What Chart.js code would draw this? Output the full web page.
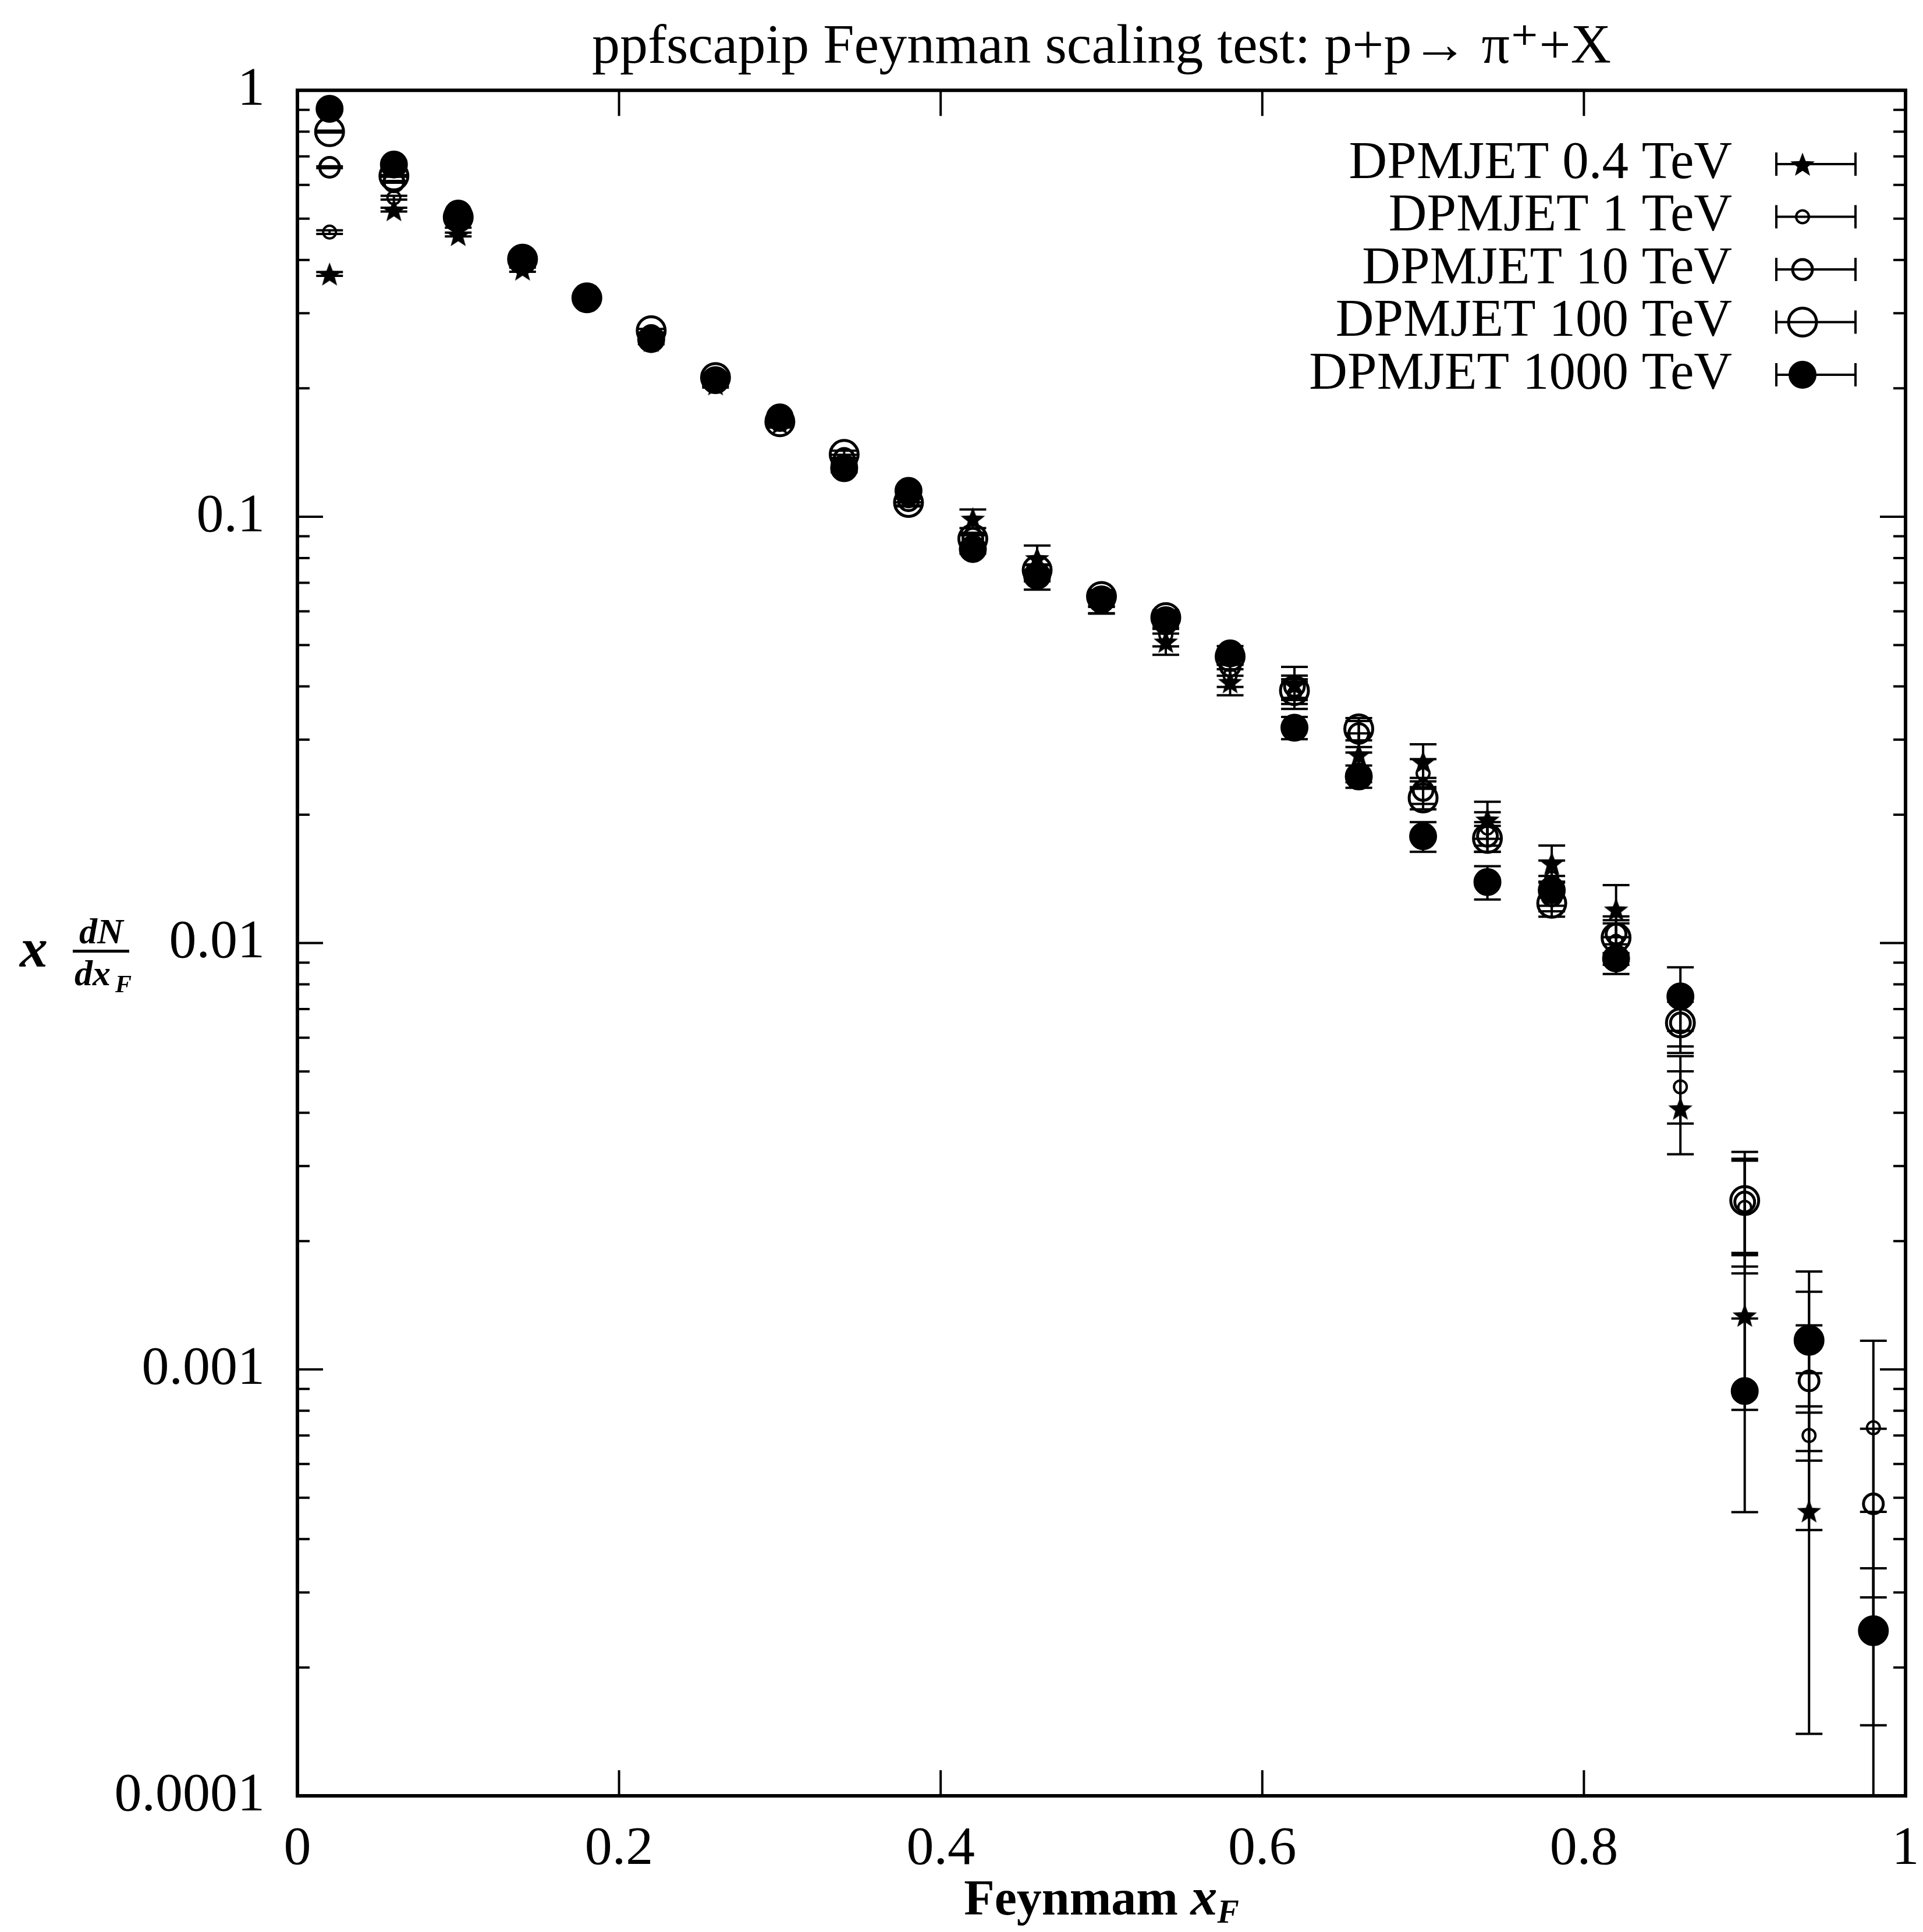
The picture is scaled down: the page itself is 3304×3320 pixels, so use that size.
<!DOCTYPE html>
<html>
<head>
<meta charset="utf-8">
<title>ppfscapip Feynman scaling test</title>
<script src="https://cdn.jsdelivr.net/npm/chart.js@4.4.1/dist/chart.umd.min.js"></script>
<style>
  html, body { margin: 0; padding: 0; background: #fff; }
  #wrap { width: 3304px; height: 3320px; }
</style>
</head>
<body>
<div id="wrap"><canvas id="chart" width="3304" height="3320"></canvas></div>
<script>
// bin centres in x_F
const xBins = [0.02, 0.06, 0.10, 0.14, 0.18, 0.22, 0.26, 0.30, 0.34, 0.38, 0.42, 0.46, 0.50,
               0.54, 0.58, 0.62, 0.66, 0.70, 0.74, 0.78, 0.82, 0.86, 0.90, 0.94, 0.98];

// x dN/dx_F, one array per energy
const dpm04   = [0.371, 0.525, 0.459, 0.381, 0.322, 0.259, 0.205, 0.166, 0.131, 0.112, 0.099, 0.080, 0.063,
                 0.051, 0.041, 0.0404, 0.0277, 0.0266, 0.0195, 0.0154, 0.0120, 0.0041, 0.00134, 0.000466, null];
const dpm1    = [0.465, 0.56, 0.481, 0.388, 0.324, 0.263, 0.207, 0.167, 0.134, 0.109, 0.087, 0.071, 0.0625,
                 0.0528, 0.0424, 0.0385, 0.0259, 0.025, 0.0186, 0.0142, 0.0101, 0.0046, 0.0024, 0.0007, 0.00073];
const dpm10   = [0.66, 0.61, 0.497, 0.396, 0.324, 0.266, 0.208, 0.168, 0.137, 0.109, 0.089, 0.074, 0.064,
                 0.056, 0.0446, 0.040, 0.031, 0.0228, 0.0178, 0.0129, 0.0105, 0.0065, 0.00247, 0.00094, 0.000484];
const dpm100  = [0.80, 0.63, 0.504, 0.402, 0.326, 0.273, 0.212, 0.167, 0.140, 0.108, 0.0887, 0.075, 0.065,
                 0.058, 0.047, 0.0391, 0.0318, 0.0219, 0.0176, 0.0124, 0.0103, 0.0065, 0.00249, 0.00117, 0.000244];
const dpm1000 = [0.905, 0.67, 0.514, 0.402, 0.325, 0.261, 0.209, 0.171, 0.130, 0.115, 0.084, 0.0727, 0.064,
                 0.0572, 0.0478, 0.032, 0.0246, 0.0178, 0.0139, 0.0133, 0.0092, 0.0075, 0.00089, 0.00117, 0.000244];

// relative statistical errors (fraction of value)
const err04   = [0.01, 0.01, 0.01, 0.015, 0.015, 0.02, 0.02, 0.025, 0.03, 0.035, 0.05, 0.07, 0.06,
                 0.07, 0.07, 0.10, 0.12, 0.10, 0.10, 0.10, 0.14, 0.22, 0.40, 0.70, null];
const err1    = [0.01, 0.01, 0.01, 0.01, 0.015, 0.015, 0.02, 0.02, 0.025, 0.03, 0.04, 0.05, 0.05,
                 0.06, 0.06, 0.08, 0.08, 0.08, 0.09, 0.10, 0.12, 0.18, 0.30, 0.40, 0.60];
const err10   = [0.005, 0.005, 0.01, 0.01, 0.01, 0.015, 0.015, 0.02, 0.02, 0.025, 0.03, 0.04, 0.04,
                 0.05, 0.05, 0.06, 0.07, 0.07, 0.08, 0.08, 0.10, 0.15, 0.25, 0.35, 0.50];
const err100  = [0.005, 0.005, 0.005, 0.01, 0.01, 0.01, 0.015, 0.015, 0.02, 0.02, 0.025, 0.03, 0.035,
                 0.04, 0.04, 0.05, 0.06, 0.06, 0.07, 0.07, 0.08, 0.12, 0.30, 0.30, 0.40];
const err1000 = [0.005, 0.005, 0.005, 0.01, 0.01, 0.01, 0.015, 0.015, 0.02, 0.02, 0.025, 0.03, 0.035,
                 0.04, 0.04, 0.06, 0.06, 0.08, 0.09, 0.08, 0.08, 0.17, 0.48, 0.45, 0.90];

const seriesLabels = ["DPMJET 0.4 TeV", "DPMJET 1 TeV", "DPMJET 10 TeV", "DPMJET 100 TeV", "DPMJET 1000 TeV"];
const xTickValues = [0, 0.2, 0.4, 0.6, 0.8, 1];
const xTickLabels = ["0", "0.2", "0.4", "0.6", "0.8", "1"];
const yTickValues = [0.0001, 0.001, 0.01, 0.1, 1];
const yTickLabels = ["0.0001", "0.001", "0.01", "0.1", "1"];
const titleText = "ppfscapip Feynman scaling test: p+p\u2192 \u03c0\u207a+X";

const SERIF = '"Liberation Serif", "DejaVu Serif", serif';

// filled five point star marker
function makeStar(R) {
  const c = document.createElement("canvas");
  c.width = c.height = 2 * R + 4;
  const g = c.getContext("2d");
  g.translate(c.width / 2, c.height / 2 + R * 0.1);
  g.beginPath();
  for (let i = 0; i < 10; i++) {
    const a = -Math.PI / 2 + i * Math.PI / 5;
    const r = i % 2 ? R * 0.42 : R;
    g.lineTo(r * Math.cos(a), r * Math.sin(a));
  }
  g.closePath();
  g.fillStyle = "#000";
  g.fill();
  return c;
}
const starImg = makeStar(22);

function pts(vals, errs) {
  const out = [];
  xBins.forEach((x, i) => {
    if (vals[i] != null) out.push({ x: x, y: vals[i], e: errs[i] || 0 });
  });
  return out;
}

const datasets = [
  { label: seriesLabels[0], data: pts(dpm04, err04), pointStyle: starImg, pointRadius: 22,
    backgroundColor: "#000", borderColor: "#000", borderWidth: 0 },
  { label: seriesLabels[1], data: pts(dpm1, err1), pointStyle: "circle", pointRadius: 11,
    backgroundColor: "rgba(0,0,0,0)", borderColor: "#000", borderWidth: 4 },
  { label: seriesLabels[2], data: pts(dpm10, err10), pointStyle: "circle", pointRadius: 17,
    backgroundColor: "rgba(0,0,0,0)", borderColor: "#000", borderWidth: 5 },
  { label: seriesLabels[3], data: pts(dpm100, err100), pointStyle: "circle", pointRadius: 24,
    backgroundColor: "rgba(0,0,0,0)", borderColor: "#000", borderWidth: 5 },
  { label: seriesLabels[4], data: pts(dpm1000, err1000), pointStyle: "circle", pointRadius: 23,
    backgroundColor: "#000", borderColor: "#000", borderWidth: 2 }
];

function drawMarker(ctx, ds, x, y) {
  if (ds.pointStyle instanceof HTMLCanvasElement) {
    ctx.drawImage(ds.pointStyle, x - ds.pointStyle.width / 2, y - ds.pointStyle.height / 2);
    return;
  }
  ctx.beginPath();
  ctx.arc(x, y, ds.pointRadius, 0, Math.PI * 2);
  ctx.fillStyle = ds.backgroundColor;
  ctx.fill();
  ctx.lineWidth = ds.borderWidth;
  ctx.strokeStyle = ds.borderColor;
  ctx.stroke();
}

const CAP = 23;

const decor = {
  id: "decor",
  beforeDraw(chart) {
    const ctx = chart.ctx;
    ctx.save();
    ctx.fillStyle = "#fff";
    ctx.fillRect(0, 0, chart.width, chart.height);
    ctx.restore();
  },
  afterDatasetsDraw(chart) {
    // vertical error bars with caps
    const { ctx, chartArea: a, scales: { x, y } } = chart;
    ctx.save();
    ctx.beginPath();
    ctx.rect(a.left, a.top, a.right - a.left, a.bottom - a.top);
    ctx.clip();
    ctx.strokeStyle = "#000";
    ctx.lineWidth = 4;
    chart.data.datasets.forEach(ds => ds.data.forEach(p => {
      const px = x.getPixelForValue(p.x);
      const top = y.getPixelForValue(p.y * (1 + p.e));
      const loV = p.y * (1 - p.e);
      const bot = loV > 0 ? y.getPixelForValue(loV) : a.bottom + 20;
      ctx.beginPath();
      ctx.moveTo(px, top); ctx.lineTo(px, bot);
      ctx.moveTo(px - CAP, top); ctx.lineTo(px + CAP, top);
      if (loV > 0) { ctx.moveTo(px - CAP, bot); ctx.lineTo(px + CAP, bot); }
      ctx.stroke();
    }));
    ctx.restore();
  },
  afterDraw(chart) {
    const { ctx, chartArea: a, scales: { x, y } } = chart;
    ctx.save();
    ctx.strokeStyle = "#000";

    // frame
    ctx.lineWidth = 6;
    ctx.strokeRect(a.left, a.top, a.right - a.left, a.bottom - a.top);

    // inward ticks, mirrored
    ctx.lineWidth = 4;
    ctx.beginPath();
    for (let e = -4; e <= 0; e++) {
      for (let m = 1; m <= 9; m++) {
        const v = m * Math.pow(10, e);
        if (v > 1.0001) break;
        const py = y.getPixelForValue(v);
        const len = m === 1 ? 44 : 21;
        ctx.moveTo(a.left, py); ctx.lineTo(a.left + len, py);
        ctx.moveTo(a.right, py); ctx.lineTo(a.right - len, py);
      }
    }
    xTickValues.forEach(v => {
      const px = x.getPixelForValue(v);
      ctx.moveTo(px, a.bottom); ctx.lineTo(px, a.bottom - 44);
      ctx.moveTo(px, a.top); ctx.lineTo(px, a.top + 44);
    });
    ctx.stroke();

    // key, top right inside the frame
    ctx.fillStyle = "#000";
    ctx.font = "91px " + SERIF;
    ctx.textAlign = "right";
    ctx.textBaseline = "middle";
    chart.data.datasets.forEach((ds, i) => {
      const ly = 282 + i * 90.5;
      ctx.fillStyle = "#000";
      ctx.fillText(ds.label, 2976, ly);
      ctx.lineWidth = 4;
      ctx.strokeStyle = "#000";
      ctx.beginPath();
      ctx.moveTo(3052, ly); ctx.lineTo(3188, ly);
      ctx.moveTo(3052, ly - 20); ctx.lineTo(3052, ly + 20);
      ctx.moveTo(3188, ly - 20); ctx.lineTo(3188, ly + 20);
      ctx.stroke();
      drawMarker(ctx, ds, 3097, ly);
    });

    // y axis label: x dN/dx_F
    ctx.fillStyle = "#000";
    ctx.textBaseline = "alphabetic";
    ctx.textAlign = "center";
    const yc = y.getPixelForValue(0.01) + 14;
    ctx.font = "bold italic 96px " + SERIF;
    ctx.fillText("x", 58, yc + 26);
    ctx.font = "bold italic 62px " + SERIF;
    ctx.fillText("dN", 174, yc - 14);
    ctx.lineWidth = 5;
    ctx.beginPath();
    ctx.moveTo(125, yc); ctx.lineTo(222, yc);
    ctx.stroke();
    ctx.textAlign = "left";
    ctx.fillText("dx", 128, yc + 58);
    ctx.font = "bold italic 42px " + SERIF;
    ctx.fillText("F", 198, yc + 70);

    // x axis label: Feynmam x_F
    const xc = (a.left + a.right) / 2;
    const base = 3290;
    ctx.font = "bold 86px " + SERIF;
    const w1 = ctx.measureText("Feynmam ").width;
    ctx.font = "bold italic 92px " + SERIF;
    const w2 = ctx.measureText("x").width;
    ctx.font = "bold italic 56px " + SERIF;
    const w3 = ctx.measureText("F").width;
    const sx = xc - (w1 + w2 + w3) / 2;
    ctx.textAlign = "left";
    ctx.font = "bold 86px " + SERIF;
    ctx.fillText("Feynmam ", sx, base);
    ctx.font = "bold italic 92px " + SERIF;
    ctx.fillText("x", sx + w1, base);
    ctx.font = "bold italic 56px " + SERIF;
    ctx.fillText("F", sx + w1 + w2, base + 14);

    ctx.restore();
  }
};

new Chart(document.getElementById("chart"), {
  type: "scatter",
  data: { datasets: datasets },
  plugins: [decor],
  options: {
    responsive: false,
    animation: false,
    devicePixelRatio: 1,
    layout: { autoPadding: false, padding: { left: 0, right: 30, top: 0, bottom: 0 } },
    plugins: {
      legend: { display: false },
      tooltip: { enabled: false },
      title: {
        display: true,
        text: titleText,
        fullSize: false,
        color: "#000",
        font: { family: SERIF, size: 96, weight: "normal", lineHeight: 1.2 },
        padding: { top: 25, bottom: 15 }
      }
    },
    scales: {
      x: {
        type: "linear",
        min: 0,
        max: 1,
        grid: { display: false, drawTicks: false },
        border: { display: false },
        afterFit: s => { s.height = 234; s.paddingLeft = 0; s.paddingRight = 0; },
        ticks: {
          stepSize: 0.2,
          padding: 36,
          color: "#000",
          font: { family: SERIF, size: 94 },
          callback: v => {
            const i = xTickValues.findIndex(t => Math.abs(t - v) < 1e-6);
            return i >= 0 ? xTickLabels[i] : "";
          }
        }
      },
      y: {
        type: "logarithmic",
        min: 0.0001,
        max: 1,
        grid: { display: false, drawTicks: false },
        border: { display: false },
        afterFit: s => { s.width = 511; s.paddingTop = 0; s.paddingBottom = 0; },
        ticks: {
          autoSkip: false,
          padding: 56,
          color: "#000",
          font: { family: SERIF, size: 94 },
          callback: v => {
            const i = yTickValues.findIndex(t => Math.abs(Math.log10(t) - Math.log10(v)) < 1e-6);
            return i >= 0 ? yTickLabels[i] : "";
          }
        }
      }
    }
  }
});
</script>
</body>
</html>
